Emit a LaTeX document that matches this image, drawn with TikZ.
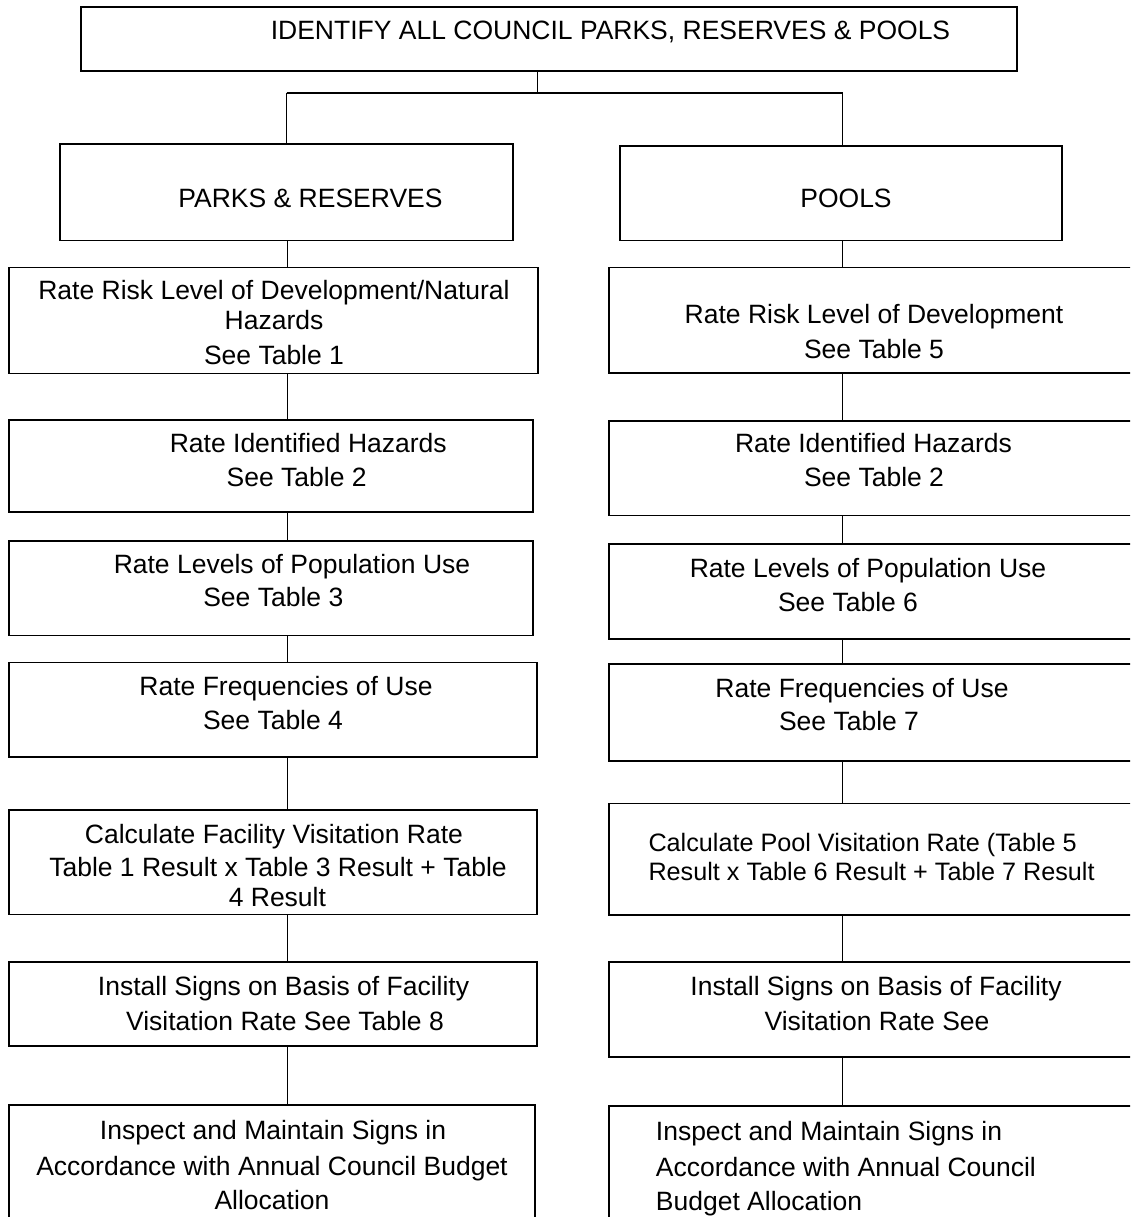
\documentclass[tikz,border=0pt]{standalone}
\usepackage{fontspec}
\setmainfont{Liberation Sans}
\begin{document}
\begin{tikzpicture}[x=1pt,y=-1pt,
  box/.style={draw=black, line width=1.6pt, rectangle, inner sep=0pt, outer sep=0pt, anchor=north west},
  conn/.style={draw=black, line width=1pt},
  bar/.style={draw=black, line width=1.8pt},
  lbl/.style={anchor=base, inner sep=0pt, font=\fontsize{26.5}{32}\selectfont},
  lbls/.style={anchor=base west, inner sep=0pt, font=\fontsize{25.2}{30}\selectfont},
  lbll/.style={anchor=base west, inner sep=0pt, font=\fontsize{26.5}{32}\selectfont}]
\useasboundingbox (0,0) rectangle (1130,1217);
\clip (0,0) rectangle (1130,1217);
% boxes
\node[box, minimum width=936pt, minimum height=63.7pt] (top) at (80.7,7.3) {};
\node[box, minimum width=453pt, minimum height=96.5pt] (pr) at (60,144) {};
\node[box, minimum width=442pt, minimum height=94.5pt] (po) at (620,146) {};
\node[box, minimum width=529pt, minimum height=106pt] (L1) at (9,267.3) {};
\node[box, minimum width=531pt, minimum height=105.7pt] (R1) at (609,267.3) {};
\node[box, minimum width=524pt, minimum height=91.7pt] (L2) at (9,420) {};
\node[box, minimum width=531pt, minimum height=94.8pt] (R2) at (609,420.7) {};
\node[box, minimum width=524pt, minimum height=94.8pt] (L3) at (9,540.7) {};
\node[box, minimum width=531pt, minimum height=95pt] (R3) at (609,544) {};
\node[box, minimum width=528pt, minimum height=94.4pt] (L4) at (9,662.3) {};
\node[box, minimum width=531pt, minimum height=96.7pt] (R4) at (609,664) {};
\node[box, minimum width=528pt, minimum height=104.5pt] (L5) at (9,810) {};
\node[box, minimum width=531pt, minimum height=111.7pt] (R5) at (609,803.3) {};
\node[box, minimum width=528pt, minimum height=84pt] (L6) at (9,961.7) {};
\node[box, minimum width=531pt, minimum height=95pt] (R6) at (609,961.7) {};
\node[box, minimum width=526pt, minimum height=135pt] (L7) at (9,1105) {};
\node[box, minimum width=531pt, minimum height=134pt] (R7) at (609,1106) {};
% connector guides
\coordinate (jt) at (537,92.7);
\coordinate (jl) at (286.5,92.7);
\coordinate (jr) at (842.5,92.7);
\coordinate (cl) at (287,0);
\coordinate (cr) at (842,0);
\draw[conn] (top.south -| jt) -- (jt);
\draw[bar] (jl) -- (jr);
\draw[conn] (jl) -- (pr.north -| jl);
\draw[conn] (jr) -- (po.north -| jr);
\draw[conn] (pr.south -| cl) -- (L1.north -| cl);
\draw[conn] (L1.south -| cl) -- (L2.north -| cl);
\draw[conn] (L2.south -| cl) -- (L3.north -| cl);
\draw[conn] (L3.south -| cl) -- (L4.north -| cl);
\draw[conn] (L4.south -| cl) -- (L5.north -| cl);
\draw[conn] (L5.south -| cl) -- (L6.north -| cl);
\draw[conn] (L6.south -| cl) -- (L7.north -| cl);
\draw[conn] (po.south -| cr) -- (R1.north -| cr);
\draw[conn] (R1.south -| cr) -- (R2.north -| cr);
\draw[conn] (R2.south -| cr) -- (R3.north -| cr);
\draw[conn] (R3.south -| cr) -- (R4.north -| cr);
\draw[conn] (R4.south -| cr) -- (R5.north -| cr);
\draw[conn] (R5.south -| cr) -- (R6.north -| cr);
\draw[conn] (R6.south -| cr) -- (R7.north -| cr);
% texts
\node[lbl] (ttop) at (610.5,39.3) {IDENTIFY ALL COUNCIL PARKS, RESERVES \& POOLS};
\node[lbl] (tpr) at (310.5,207.3) {PARKS \& RESERVES};
\node[lbl] (tpo) at (846,207.3) {POOLS};
\node[lbl] (tL1a) at (274,299.3) {Rate Risk Level of Development/Natural};
\node[lbl] (tL1b) at (274,329) {Hazards};
\node[lbl] (tL1c) at (274,364.3) {See Table 1};
\node[lbl] (tR1a) at (874,323) {Rate Risk Level of Development};
\node[lbl] (tR1b) at (874,358) {See Table 5};
\node[lbl] (tL2a) at (308.3,452.3) {Rate Identified Hazards};
\node[lbl] (tL2b) at (296.7,486) {See Table 2};
\node[lbl] (tR2a) at (873.5,452.3) {Rate Identified Hazards};
\node[lbl] (tR2b) at (874,486) {See Table 2};
\node[lbl] (tL3a) at (292,573.3) {Rate Levels of Population Use};
\node[lbl] (tL3b) at (273.3,606) {See Table 3};
\node[lbl] (tR3a) at (868,577) {Rate Levels of Population Use};
\node[lbl] (tR3b) at (848,611) {See Table 6};
\node[lbl] (tL4a) at (286,695.5) {Rate Frequencies of Use};
\node[lbl] (tL4b) at (273,729) {See Table 4};
\node[lbl] (tR4a) at (862,697) {Rate Frequencies of Use};
\node[lbl] (tR4b) at (849,730.5) {See Table 7};
\node[lbl] (tL5a) at (274,843) {Calculate Facility Visitation Rate};
\node[lbl] (tL5b) at (278,876) {Table 1 Result x Table 3 Result + Table};
\node[lbl] (tL5c) at (277.4,906) {4 Result};
\node[lbls] (tR5a) at (648.3,851) {Calculate Pool Visitation Rate (Table 5};
\node[lbls] (tR5b) at (648.3,880) {Result x Table 6 Result + Table 7 Result};
\node[lbl] (tL6a) at (283.5,995) {Install Signs on Basis of Facility};
\node[lbl] (tL6b) at (285,1030) {Visitation Rate See Table 8};
\node[lbl] (tR6a) at (876,995) {Install Signs on Basis of Facility};
\node[lbl] (tR6b) at (877,1030) {Visitation Rate See};
\node[lbl] (tL7a) at (273,1139) {Inspect and Maintain Signs in};
\node[lbl] (tL7b) at (272,1175) {Accordance with Annual Council Budget};
\node[lbl] (tL7c) at (272,1209.5) {Allocation};
\node[lbll] (tR7a) at (655.7,1140) {Inspect and Maintain Signs in};
\node[lbll] (tR7b) at (655.7,1176) {Accordance with Annual Council};
\node[lbll] (tR7c) at (655.7,1210) {Budget Allocation};
\end{tikzpicture}
\end{document}
